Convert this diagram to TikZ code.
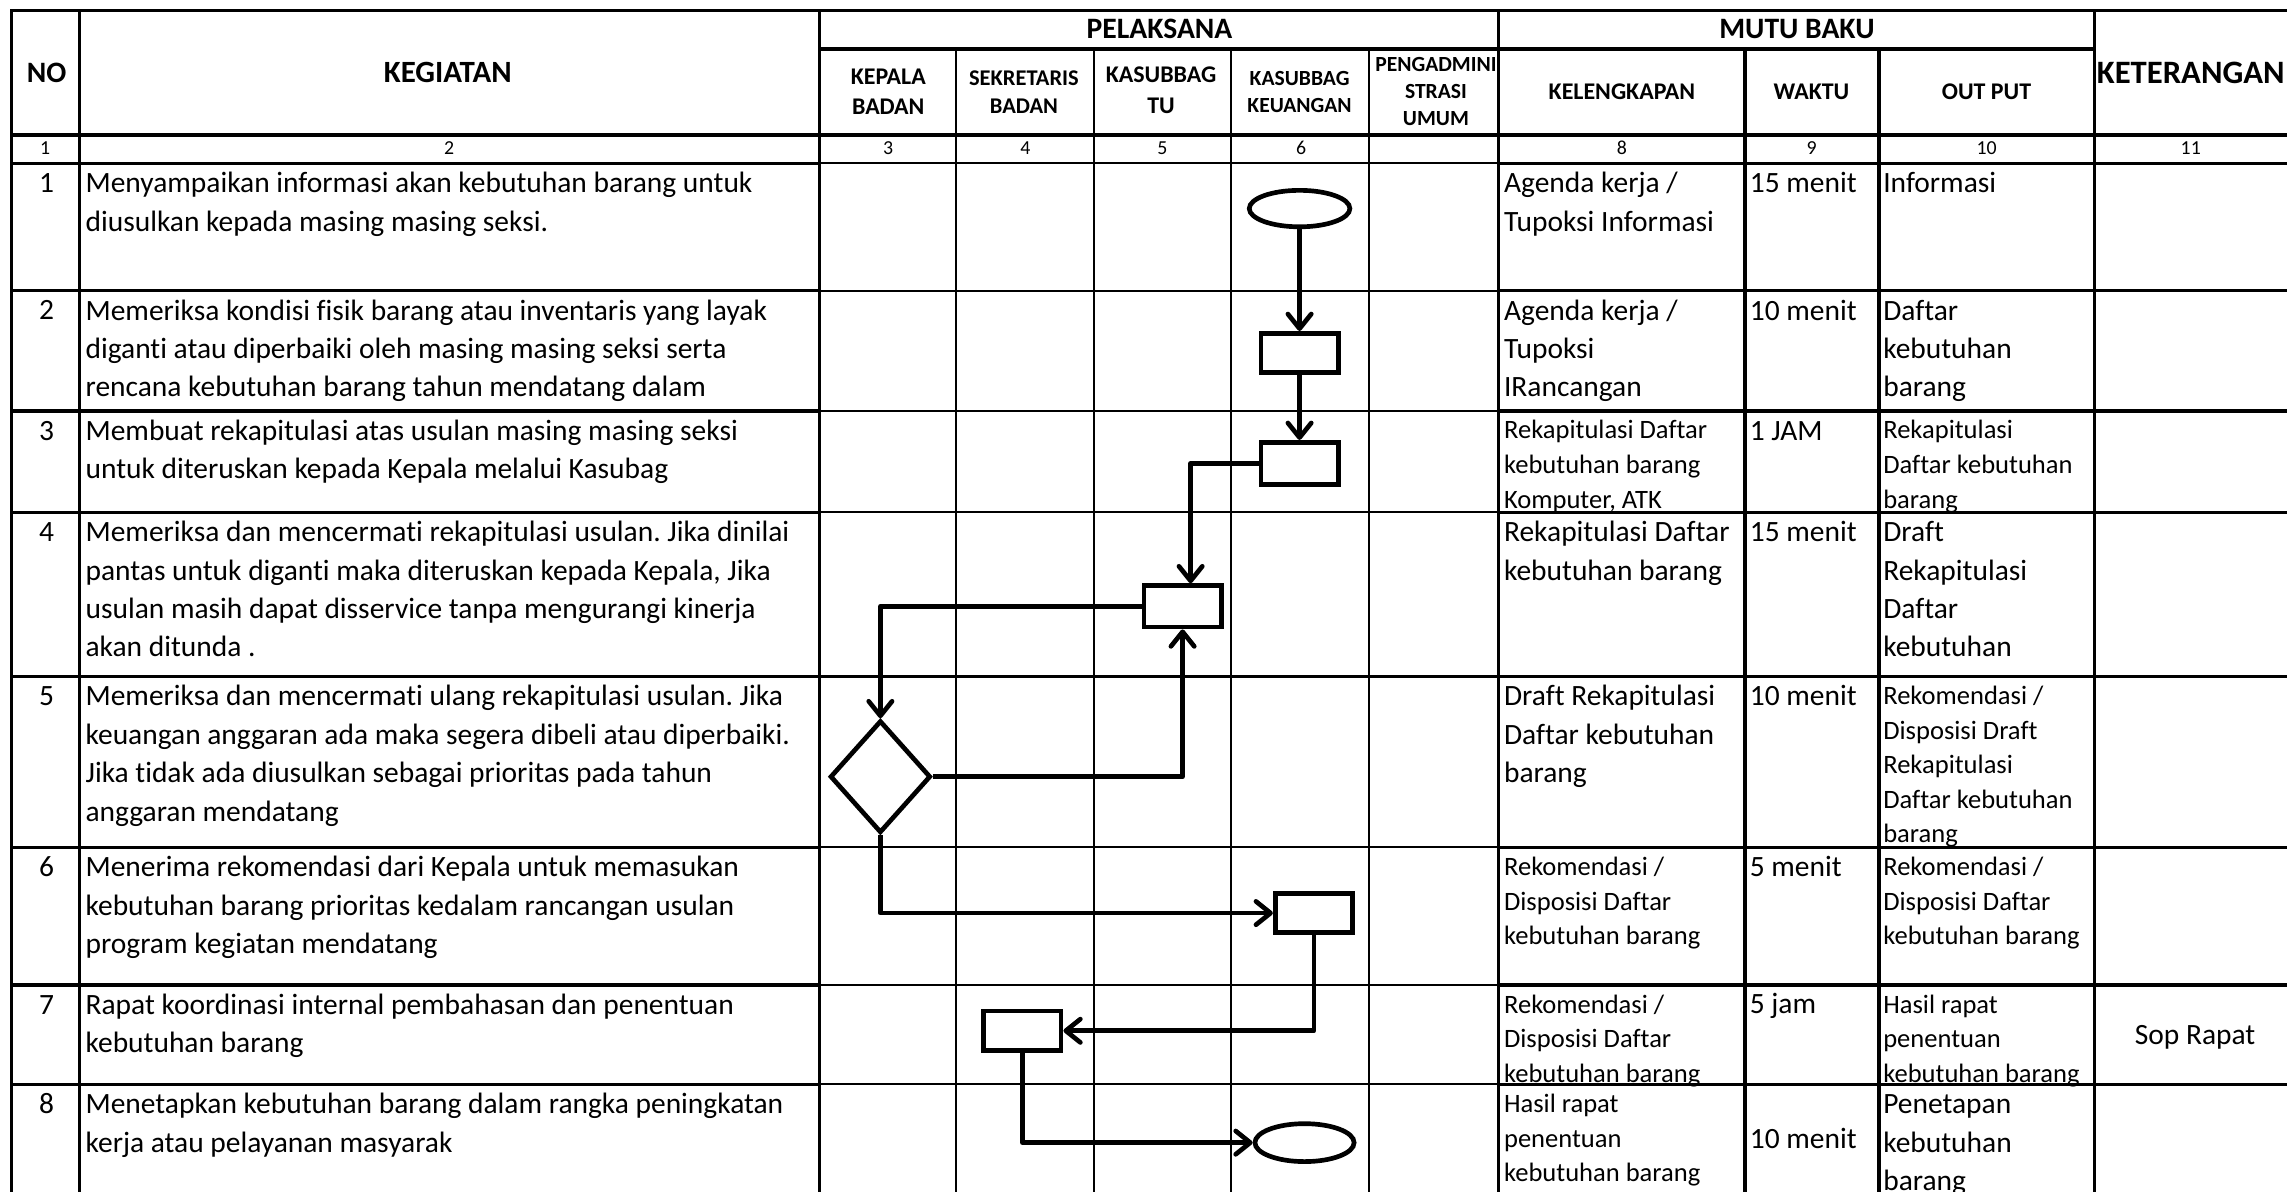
\documentclass[tikz,border=0pt]{standalone}
\usepackage{fontspec}
\setmainfont{Carlito}[Ligatures={NoCommon,NoRequired,NoContextual}]
\usetikzlibrary{arrows.meta,shapes.geometric}
\frenchspacing
\newcommand\bigcell[4]{\node[cell,big] (#1) at (#2,#3+4) {\rule{0pt}{16pt}#4};}
\newcommand\smallcell[4]{\node[cell,small] (#1) at (#2,#3+4) {\rule{0pt}{15pt}#4};}
\begin{document}
\begin{tikzpicture}[x=1pt,y=-1pt,
  big/.style={font=\frenchspacing\fontsize{20.2}{26.3}\selectfont},
  small/.style={font=\frenchspacing\fontsize{18.2}{23.7}\selectfont},
  cell/.style={anchor=north west,inner sep=0pt,align=left},
  hdr/.style={inner sep=0pt,align=center,font=\bfseries\fontsize{20.3}{24}\selectfont},
  subhdr/.style={inner sep=0pt,align=center,font=\bfseries\fontsize{16.4}{21}\selectfont},
  subhdrs/.style={inner sep=0pt,align=center,font=\bfseries\fontsize{14.8}{19}\selectfont},
  numtxt/.style={inner sep=0pt,font=\fontsize{13.6}{16}\selectfont},
  thickline/.style={line width=2.3pt,line cap=rect},
  thinline/.style={line width=1.4pt,line cap=rect},
  proc/.style={draw,fill=white,line width=3.2pt,rectangle,minimum width=53pt,minimum height=27pt,inner sep=0pt},
  term/.style={draw,fill=white,line width=3.2pt,ellipse,minimum width=69pt,minimum height=25pt,inner sep=0pt},
  decis/.style={draw,fill=white,line width=3.2pt,diamond,minimum width=69pt,minimum height=77pt,inner sep=0pt},
  flow/.style={line width=3.2pt,line join=round,-{Straight Barb[length=10pt,width=16pt,line cap=round,line join=round]}}
]
\useasboundingbox (0,0) rectangle (1568,817);

% ---------- grid ----------
\foreach \y in {7,92.6} \draw[thickline] (8,\y) -- (1580,\y);
\draw[thickline] (562,33.5) -- (1436,33.5);
\foreach \y in {112,199.3,281.7,351.2,463.8,581,675.4,743.5}{
  \draw[thickline] (8,\y) -- (562,\y);
  \draw[thickline] (1027.5,\y) -- (1580,\y);
  \draw[thinline] (562,\y) -- (1027.5,\y);
}
\foreach \x in {8,54.5,562,1027.5,1436,1572} \draw[thickline] (\x,7) -- (\x,830);
\foreach \x in {1196.5,1288.3} \draw[thickline] (\x,33.5) -- (\x,830);
\foreach \x in {655.6,749.9,844.2,938.8} \draw[thinline] (\x,33.5) -- (\x,830);

% ---------- header ----------
\node[hdr] (hNo) at (32,50) {NO};
\node[hdr,font=\bfseries\fontsize{21.2}{24}\selectfont] (hKeg) at (307,50) {KEGIATAN};
\node[hdr] (hPel) at (795,20) {PELAKSANA};
\node[hdr] (hMutu) at (1232,20) {MUTU BAKU};
\node[hdr,font=\bfseries\fontsize{22.4}{24}\selectfont] (hKet) at (1502,50) {KETERANGAN};
\node[subhdr] (hKep) at (609,63) {KEPALA\\BADAN};
\node[subhdrs,font=\bfseries\fontsize{15.4}{19}\selectfont] (hSek) at (702,63) {SEKRETARIS\\BADAN};
\node[subhdr] (hTu) at (796,62) {KASUBBAG\\TU};
\node[subhdrs] (hKeu) at (891,63) {KASUBBAG\\KEUANGAN};
\node[subhdrs,font=\bfseries\fontsize{14.8}{18.5}\selectfont] (hPeng) at (984.5,63) {PENGADMINI\\STRASI\\UMUM};
\node[subhdr] (hKel) at (1112,63) {KELENGKAPAN};
\node[subhdr] (hWak) at (1242,63) {WAKTU};
\node[subhdr] (hOut) at (1362,63) {OUT PUT};

% number row
\node[numtxt] (c1) at (31,101.5) {1};
\node[numtxt] (c2) at (308,101.5) {2};
\node[numtxt] (c3) at (609,101.5) {3};
\node[numtxt] (c4) at (703,101.5) {4};
\node[numtxt] (c5) at (797,101.5) {5};
\node[numtxt] (c6) at (892,101.5) {6};
\node[numtxt] (c8) at (1112,101.5) {8};
\node[numtxt] (c9) at (1242,101.5) {9};
\node[numtxt] (c10) at (1362,101.5) {10};
\node[numtxt] (c11) at (1502,101.5) {11};

% ---------- row numbers ----------
\foreach \n/\t in {1/112,2/199.3,3/281.7,4/351.2,5/463.8,6/581,7/675.4,8/743.5}
  \node[big,anchor=base,inner sep=0pt] (no\n) at (32,\t+20) {\n};

% ---------- KEGIATAN ----------
\bigcell{k1}{58.5}{112}{Menyampaikan informasi akan kebutuhan barang untuk\\diusulkan kepada masing masing seksi.}
\bigcell{k2}{58.5}{199.3}{Memeriksa kondisi fisik barang atau inventaris yang layak\\diganti atau diperbaiki oleh masing masing seksi serta\\rencana kebutuhan barang tahun mendatang dalam}
\bigcell{k3}{58.5}{281.7}{Membuat rekapitulasi atas usulan masing masing seksi\\untuk diteruskan kepada Kepala melalui Kasubag}
\bigcell{k4}{58.5}{351.2}{Memeriksa dan mencermati rekapitulasi usulan. Jika dinilai\\pantas untuk diganti maka diteruskan kepada Kepala, Jika\\usulan masih dapat disservice tanpa mengurangi kinerja\\akan ditunda .}
\bigcell{k5}{58.5}{463.8}{Memeriksa dan mencermati ulang rekapitulasi usulan. Jika\\keuangan anggaran ada maka segera dibeli atau diperbaiki.\\Jika tidak ada diusulkan sebagai prioritas pada tahun\\anggaran mendatang}
\bigcell{k6}{58.5}{581}{Menerima rekomendasi dari Kepala untuk memasukan\\kebutuhan barang prioritas kedalam rancangan usulan\\program kegiatan mendatang}
\bigcell{k7}{58.5}{675.4}{Rapat koordinasi internal pembahasan dan penentuan\\kebutuhan barang}
\bigcell{k8}{58.5}{743.5}{Menetapkan kebutuhan barang dalam rangka peningkatan\\kerja atau pelayanan masyarak}

% ---------- KELENGKAPAN ----------
\bigcell{l1}{1031}{112}{Agenda kerja /\\Tupoksi Informasi}
\bigcell{l2}{1031}{199.3}{Agenda kerja /\\Tupoksi\\IRancangan}
\smallcell{l3}{1031}{281.7}{Rekapitulasi Daftar\\kebutuhan barang\\Komputer, ATK}
\bigcell{l4}{1031}{351.2}{Rekapitulasi Daftar\\kebutuhan barang}
\bigcell{l5}{1031}{463.8}{Draft Rekapitulasi\\Daftar kebutuhan\\barang}
\smallcell{l6}{1031}{581}{Rekomendasi /\\Disposisi Daftar\\kebutuhan barang}
\smallcell{l7}{1031}{675.4}{Rekomendasi /\\Disposisi Daftar\\kebutuhan barang}
\smallcell{l8}{1031}{743.5}{Hasil rapat\\penentuan\\kebutuhan barang}

% ---------- WAKTU ----------
\bigcell{w1}{1199.5}{112}{15 menit}
\bigcell{w2}{1199.5}{199.3}{10 menit}
\bigcell{w3}{1199.5}{281.7}{1 JAM}
\bigcell{w4}{1199.5}{351.2}{15 menit}
\bigcell{w5}{1199.5}{463.8}{10 menit}
\bigcell{w6}{1199.5}{581}{5 menit}
\bigcell{w7}{1199.5}{674.4}{5 jam}
\bigcell{w8}{1199.5}{767}{10 menit}

% ---------- OUT PUT ----------
\bigcell{o1}{1291}{112}{Informasi}
\bigcell{o2}{1291}{199.3}{Daftar\\kebutuhan\\barang}
\smallcell{o3}{1291}{281.7}{Rekapitulasi\\Daftar kebutuhan\\barang}
\bigcell{o4}{1291}{351.2}{Draft\\Rekapitulasi\\Daftar\\kebutuhan}
\smallcell{o5}{1291}{463.8}{Rekomendasi /\\Disposisi Draft\\Rekapitulasi\\Daftar kebutuhan\\barang}
\smallcell{o6}{1291}{581}{Rekomendasi /\\Disposisi Daftar\\kebutuhan barang}
\smallcell{o7}{1291}{675.4}{Hasil rapat\\penentuan\\kebutuhan barang}
\bigcell{o8}{1291}{743.5}{Penetapan\\kebutuhan\\barang}

% ---------- KETERANGAN ----------
\node[big,inner sep=0pt] (ket7) at (1505,711) {Sop Rapat};

% ---------- flowchart ----------
\node[term] (e1) at (891,143) {};
\node[proc] (r2) at (891,242) {};
\node[proc,minimum height=29pt] (r3) at (891,317.7) {};
\node[proc,minimum height=28.5pt] (r4) at (810.8,415.7) {};
\node[decis] (d5) at (603.6,532.5) {};
\node[proc] (r6) at (900.8,626) {};
\node[proc] (r7) at (701,706.7) {};
\node[term,minimum width=68pt,minimum height=26pt] (e8) at (894.4,783.4) {};
\coordinate (c34) at (816.3,317.7);

\draw[flow] (e1) -- (r2);
\draw[flow] (r2) -- (r3);
\draw[flow] (r3.west) -- (c34) -- (c34 |- r4.north);
\draw[flow] (r4.west) -| (d5.north);
\draw[flow] (d5.east) -| (r4.south);
\draw[flow] (d5.south) |- (r6.west);
\draw[flow] (r6.south) |- (r7.east);
\draw[flow] (r7.south) |- (e8.west);
\end{tikzpicture}
\end{document}
